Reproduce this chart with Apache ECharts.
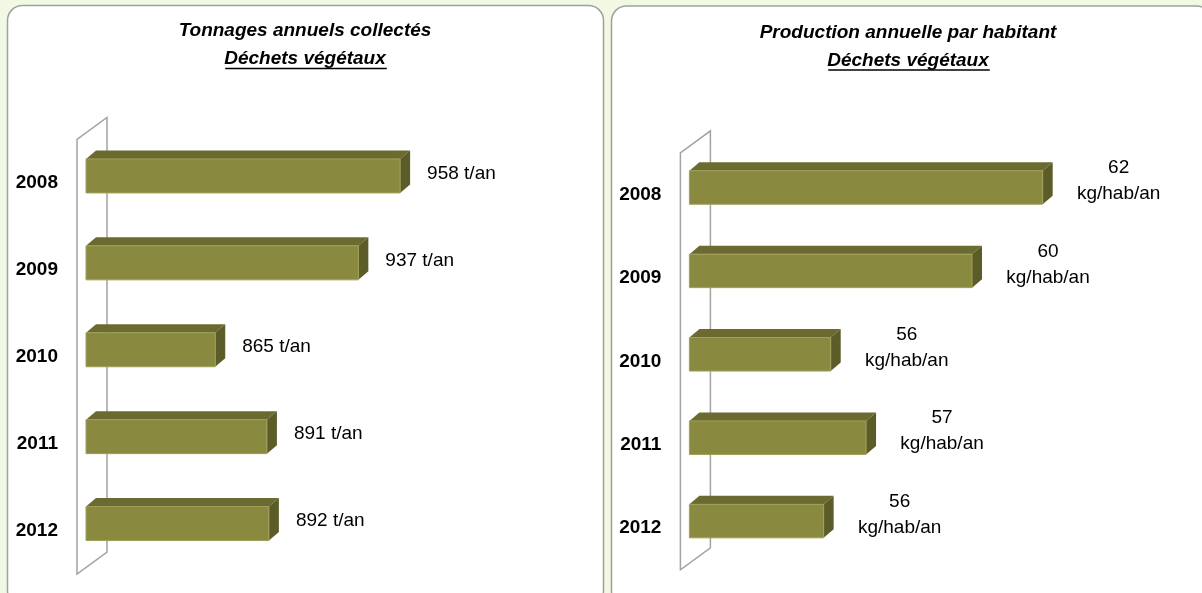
<!DOCTYPE html>
<html><head><meta charset="utf-8">
<script src="https://cdn.jsdelivr.net/npm/echarts@6/dist/echarts.min.js"></script>
<style>html,body{margin:0;padding:0;background:#f1f8e4}#c{width:1202px;height:593px}</style>
</head><body><div id="c"></div>
<script>
// ---- data ----
const years = ['2008', '2009', '2010', '2011', '2012'];
const tonnages = [958, 937, 865, 891, 892];
const perHab = [62, 60, 56, 57, 55.8];
const leftTitle = ['Tonnages annuels collectés', 'Déchets végétaux'];
const rightTitle = ['Production annuelle par habitant', 'Déchets végétaux'];
const tonnageUnit = 't/an';
const perHabUnit = 'kg/hab/an';

// ---- style ----
const FONT = '"Liberation Sans", Arial, sans-serif';
const FRONT = '#898a40', TOP = '#6b6b31', SIDE = '#5c5c29', EDGE = '#a0a05c';
const WALL = '#a3a3a3';
const L = {min: 800, max: 1050, left: 86, top: 132.5, width: 497, height: 434.5, barH: 34};
const R = {min: 52, max: 66, left: 689.4, top: 145.8, width: 494.6, height: 417, barH: 33.5};

function barRenderer(axisMin, barH, mode) {
  return function (params, api) {
    const v = api.value(0), idx = api.value(1);
    const p0 = api.coord([axisMin, idx]);
    const p1 = api.coord([v, idx]);
    const x0 = p0[0], x1 = p1[0], yc = p1[1];
    const yT = yc - barH / 2, yB = yc + barH / 2;
    const dx = 10, dy = 8.5;
    const children = [
      {type: 'polygon', shape: {points: [[x0, yT], [x0 + dx, yT - dy], [x1 + dx, yT - dy], [x1, yT]]}, style: {fill: TOP}},
      {type: 'polygon', shape: {points: [[x1, yT], [x1 + dx, yT - dy], [x1 + dx, yB - dy], [x1, yB]]}, style: {fill: SIDE}},
      {type: 'rect', shape: {x: x0, y: yT, width: x1 - x0, height: barH}, style: {fill: FRONT, stroke: EDGE, lineWidth: 1}}
    ];
    if (mode === 'left') {
      children.push({type: 'text', x: x1 + 27, y: yc - 2.5,
        style: {text: v + ' ' + tonnageUnit, font: '19px ' + FONT, fill: '#000', align: 'left', verticalAlign: 'middle'}});
    } else {
      children.push({type: 'text', x: x1 + 76, y: yc - 6.5,
        style: {text: Math.round(v) + '\n' + perHabUnit, font: '19px ' + FONT, fill: '#000', align: 'center', verticalAlign: 'middle', lineHeight: 26}});
    }
    return {type: 'group', children};
  };
}

function wallRenderer(params, api) {
  const c = params.coordSys;
  const Lx = c.x, T = c.y, B = c.y + c.height;
  return {type: 'polygon', shape: {points: [[Lx - 9, T + 7], [Lx - 9, B + 7], [Lx + 21, B - 15], [Lx + 21, T - 15]]},
    style: {fill: 'none', stroke: WALL, lineWidth: 1.5}};
}

const chart = echarts.init(document.getElementById('c'), null, {renderer: 'canvas'});

// measure text width for underline
const mctx = document.createElement('canvas').getContext('2d');
function tw(text, font) { mctx.font = font; return mctx.measureText(text).width; }
const TFONT = 'italic bold 19px ' + FONT;

function titleBlock(lines, cx, y1, y2) {
  const w = tw(lines[1], TFONT);
  return [
    {type: 'text', x: cx, y: y1, z: 5, style: {text: lines[0], font: TFONT, fill: '#000', align: 'center', verticalAlign: 'middle'}},
    {type: 'text', x: cx, y: y2, z: 5, style: {text: lines[1], font: TFONT, fill: '#000', align: 'center', verticalAlign: 'middle'}},
    {type: 'line', shape: {x1: cx - w / 2 + 1, y1: y2 + 9.5, x2: cx + w / 2 + 1, y2: y2 + 9.5}, style: {stroke: '#000', lineWidth: 1.3}, z: 5}
  ];
}

const yAxisCommon = {
  type: 'category', data: years, inverse: true,
  axisLine: {show: false}, axisTick: {show: false}, splitLine: {show: false},
  axisLabel: {fontFamily: FONT, fontSize: 19, fontWeight: 'bold', color: '#000', margin: 28,
    verticalAlign: 'top', lineHeight: 14}
};

chart.setOption({
  backgroundColor: '#f1f8e4',
  animation: false,
  graphic: {elements: [
    {type: 'rect', shape: {x: 7.5, y: 5.5, width: 596, height: 600, r: 15}, style: {fill: '#fff', stroke: '#a0a0a0', lineWidth: 1.5}, z: -10},
    {type: 'rect', shape: {x: 611.5, y: 6, width: 600, height: 600, r: 15}, style: {fill: '#fff', stroke: '#a0a0a0', lineWidth: 1.5}, z: -10}
  ].concat(titleBlock(leftTitle, 305, 31, 59), titleBlock(rightTitle, 908, 33, 60.5))},
  grid: [
    {left: L.left, top: L.top, width: L.width, height: L.height},
    {left: R.left, top: R.top, width: R.width, height: R.height}
  ],
  xAxis: [
    {type: 'value', gridIndex: 0, min: L.min, max: L.max, show: false},
    {type: 'value', gridIndex: 1, min: R.min, max: R.max, show: false}
  ],
  yAxis: [
    Object.assign({gridIndex: 0}, yAxisCommon),
    Object.assign({gridIndex: 1}, yAxisCommon)
  ],
  series: [
    {type: 'custom', xAxisIndex: 0, yAxisIndex: 0, data: [[L.min, 0]], renderItem: wallRenderer, z: 1, silent: true},
    {type: 'custom', xAxisIndex: 1, yAxisIndex: 1, data: [[R.min, 0]], renderItem: wallRenderer, z: 1, silent: true},
    {type: 'custom', name: 'Tonnages', xAxisIndex: 0, yAxisIndex: 0,
      data: tonnages.map((v, i) => [v, i]), encode: {x: 0, y: 1},
      renderItem: barRenderer(L.min, L.barH, 'left'), z: 3},
    {type: 'custom', name: 'Par habitant', xAxisIndex: 1, yAxisIndex: 1,
      data: perHab.map((v, i) => [v, i]), encode: {x: 0, y: 1},
      renderItem: barRenderer(R.min, R.barH, 'right'), z: 3}
  ]
});
</script></body></html>
